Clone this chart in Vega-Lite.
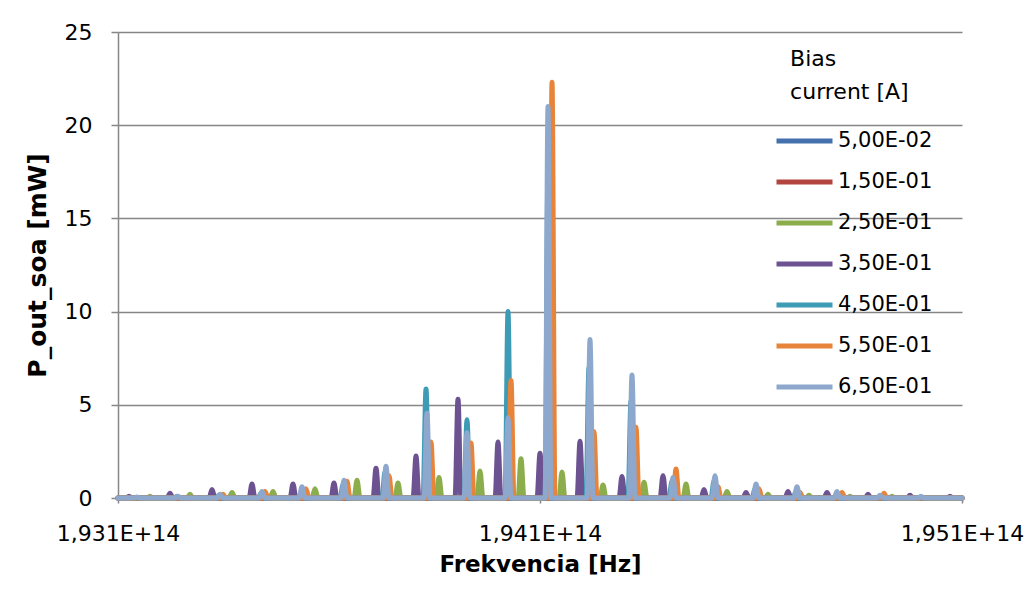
{
  "$schema": "https://vega.github.io/schema/vega-lite/v6.json",
  "width": 844,
  "height": 466,
  "autosize": {"type": "none"},
  "padding": {"left": 118, "top": 32, "right": 65, "bottom": 94},
  "background": "white",
  "config": {
    "view": {"stroke": null},
    "font": "DejaVu Sans",
    "axis": {"labelColor": "black", "titleColor": "black", "labelFont": "DejaVu Sans", "titleFont": "DejaVu Sans"},
    "legend": {"labelFont": "DejaVu Sans", "titleFont": "DejaVu Sans"}
  },
  "data": {
    "values": [
      {"s": "5,00E-02", "f": 1.931e14, "p": 0},
      {"s": "5,00E-02", "f": 1.951e14, "p": 0},
      {"s": "1,50E-01", "f": 1.931e14, "p": 0},
      {"s": "1,50E-01", "f": 1.951e14, "p": 0},

      {"s": "2,50E-01", "f": 1.931e14, "p": 0},
      {"s": "2,50E-01", "f": 1.931688e14, "p": 0}, {"s": "2,50E-01", "f": 1.931758e14, "p": 0.1}, {"s": "2,50E-01", "f": 1.931828e14, "p": 0},
      {"s": "2,50E-01", "f": 1.932636e14, "p": 0}, {"s": "2,50E-01", "f": 1.932706e14, "p": 0.2}, {"s": "2,50E-01", "f": 1.932776e14, "p": 0},
      {"s": "2,50E-01", "f": 1.933632e14, "p": 0}, {"s": "2,50E-01", "f": 1.933702e14, "p": 0.3}, {"s": "2,50E-01", "f": 1.933772e14, "p": 0},
      {"s": "2,50E-01", "f": 1.934603e14, "p": 0}, {"s": "2,50E-01", "f": 1.934673e14, "p": 0.35}, {"s": "2,50E-01", "f": 1.934743e14, "p": 0},
      {"s": "2,50E-01", "f": 1.935598e14, "p": 0}, {"s": "2,50E-01", "f": 1.935668e14, "p": 0.5}, {"s": "2,50E-01", "f": 1.935738e14, "p": 0},
      {"s": "2,50E-01", "f": 1.936594e14, "p": 0}, {"s": "2,50E-01", "f": 1.936664e14, "p": 0.95}, {"s": "2,50E-01", "f": 1.936734e14, "p": 0},
      {"s": "2,50E-01", "f": 1.937565e14, "p": 0}, {"s": "2,50E-01", "f": 1.937635e14, "p": 0.8}, {"s": "2,50E-01", "f": 1.937705e14, "p": 0},
      {"s": "2,50E-01", "f": 1.938537e14, "p": 0}, {"s": "2,50E-01", "f": 1.938607e14, "p": 1.1}, {"s": "2,50E-01", "f": 1.938677e14, "p": 0},
      {"s": "2,50E-01", "f": 1.939508e14, "p": 0}, {"s": "2,50E-01", "f": 1.939578e14, "p": 1.45}, {"s": "2,50E-01", "f": 1.939648e14, "p": 0},
      {"s": "2,50E-01", "f": 1.940480e14, "p": 0}, {"s": "2,50E-01", "f": 1.940550e14, "p": 2.1}, {"s": "2,50E-01", "f": 1.940620e14, "p": 0},
      {"s": "2,50E-01", "f": 1.941451e14, "p": 0}, {"s": "2,50E-01", "f": 1.941521e14, "p": 1.4}, {"s": "2,50E-01", "f": 1.941591e14, "p": 0},
      {"s": "2,50E-01", "f": 1.942423e14, "p": 0}, {"s": "2,50E-01", "f": 1.942493e14, "p": 0.7}, {"s": "2,50E-01", "f": 1.942563e14, "p": 0},
      {"s": "2,50E-01", "f": 1.943395e14, "p": 0}, {"s": "2,50E-01", "f": 1.943465e14, "p": 0.85}, {"s": "2,50E-01", "f": 1.943535e14, "p": 0},
      {"s": "2,50E-01", "f": 1.944390e14, "p": 0}, {"s": "2,50E-01", "f": 1.944460e14, "p": 0.75}, {"s": "2,50E-01", "f": 1.944530e14, "p": 0},
      {"s": "2,50E-01", "f": 1.945361e14, "p": 0}, {"s": "2,50E-01", "f": 1.945431e14, "p": 0.35}, {"s": "2,50E-01", "f": 1.945501e14, "p": 0},
      {"s": "2,50E-01", "f": 1.946333e14, "p": 0}, {"s": "2,50E-01", "f": 1.946403e14, "p": 0.2}, {"s": "2,50E-01", "f": 1.946473e14, "p": 0},
      {"s": "2,50E-01", "f": 1.947305e14, "p": 0}, {"s": "2,50E-01", "f": 1.947375e14, "p": 0.15}, {"s": "2,50E-01", "f": 1.947445e14, "p": 0},
      {"s": "2,50E-01", "f": 1.948276e14, "p": 0}, {"s": "2,50E-01", "f": 1.948346e14, "p": 0.1}, {"s": "2,50E-01", "f": 1.948416e14, "p": 0},
      {"s": "2,50E-01", "f": 1.949271e14, "p": 0}, {"s": "2,50E-01", "f": 1.949341e14, "p": 0.1}, {"s": "2,50E-01", "f": 1.949411e14, "p": 0},
      {"s": "2,50E-01", "f": 1.951e14, "p": 0},

      {"s": "3,50E-01", "f": 1.931e14, "p": 0},
      {"s": "3,50E-01", "f": 1.931191e14, "p": 0}, {"s": "3,50E-01", "f": 1.931261e14, "p": 0.1}, {"s": "3,50E-01", "f": 1.931331e14, "p": 0},
      {"s": "3,50E-01", "f": 1.932162e14, "p": 0}, {"s": "3,50E-01", "f": 1.932232e14, "p": 0.25}, {"s": "3,50E-01", "f": 1.932302e14, "p": 0},
      {"s": "3,50E-01", "f": 1.933158e14, "p": 0}, {"s": "3,50E-01", "f": 1.933228e14, "p": 0.45}, {"s": "3,50E-01", "f": 1.933298e14, "p": 0},
      {"s": "3,50E-01", "f": 1.934105e14, "p": 0}, {"s": "3,50E-01", "f": 1.934175e14, "p": 0.75}, {"s": "3,50E-01", "f": 1.934245e14, "p": 0},
      {"s": "3,50E-01", "f": 1.935077e14, "p": 0}, {"s": "3,50E-01", "f": 1.935147e14, "p": 0.75}, {"s": "3,50E-01", "f": 1.935217e14, "p": 0},
      {"s": "3,50E-01", "f": 1.936048e14, "p": 0}, {"s": "3,50E-01", "f": 1.936118e14, "p": 0.8}, {"s": "3,50E-01", "f": 1.936188e14, "p": 0},
      {"s": "3,50E-01", "f": 1.937044e14, "p": 0}, {"s": "3,50E-01", "f": 1.937114e14, "p": 1.6}, {"s": "3,50E-01", "f": 1.937184e14, "p": 0},
      {"s": "3,50E-01", "f": 1.937992e14, "p": 0}, {"s": "3,50E-01", "f": 1.938062e14, "p": 2.25}, {"s": "3,50E-01", "f": 1.938132e14, "p": 0},
      {"s": "3,50E-01", "f": 1.938987e14, "p": 0}, {"s": "3,50E-01", "f": 1.939057e14, "p": 5.3}, {"s": "3,50E-01", "f": 1.939127e14, "p": 0},
      {"s": "3,50E-01", "f": 1.939935e14, "p": 0}, {"s": "3,50E-01", "f": 1.940005e14, "p": 3.0}, {"s": "3,50E-01", "f": 1.940075e14, "p": 0},
      {"s": "3,50E-01", "f": 1.940930e14, "p": 0}, {"s": "3,50E-01", "f": 1.941000e14, "p": 2.4}, {"s": "3,50E-01", "f": 1.941070e14, "p": 0},
      {"s": "3,50E-01", "f": 1.941878e14, "p": 0}, {"s": "3,50E-01", "f": 1.941948e14, "p": 3.05}, {"s": "3,50E-01", "f": 1.942018e14, "p": 0},
      {"s": "3,50E-01", "f": 1.942873e14, "p": 0}, {"s": "3,50E-01", "f": 1.942943e14, "p": 1.15}, {"s": "3,50E-01", "f": 1.943013e14, "p": 0},
      {"s": "3,50E-01", "f": 1.943845e14, "p": 0}, {"s": "3,50E-01", "f": 1.943915e14, "p": 1.2}, {"s": "3,50E-01", "f": 1.943985e14, "p": 0},
      {"s": "3,50E-01", "f": 1.944816e14, "p": 0}, {"s": "3,50E-01", "f": 1.944886e14, "p": 0.45}, {"s": "3,50E-01", "f": 1.944956e14, "p": 0},
      {"s": "3,50E-01", "f": 1.945812e14, "p": 0}, {"s": "3,50E-01", "f": 1.945882e14, "p": 0.3}, {"s": "3,50E-01", "f": 1.945952e14, "p": 0},
      {"s": "3,50E-01", "f": 1.946807e14, "p": 0}, {"s": "3,50E-01", "f": 1.946877e14, "p": 0.35}, {"s": "3,50E-01", "f": 1.946947e14, "p": 0},
      {"s": "3,50E-01", "f": 1.947731e14, "p": 0}, {"s": "3,50E-01", "f": 1.947801e14, "p": 0.3}, {"s": "3,50E-01", "f": 1.947871e14, "p": 0},
      {"s": "3,50E-01", "f": 1.948703e14, "p": 0}, {"s": "3,50E-01", "f": 1.948773e14, "p": 0.2}, {"s": "3,50E-01", "f": 1.948843e14, "p": 0},
      {"s": "3,50E-01", "f": 1.949698e14, "p": 0}, {"s": "3,50E-01", "f": 1.949768e14, "p": 0.15}, {"s": "3,50E-01", "f": 1.949838e14, "p": 0},
      {"s": "3,50E-01", "f": 1.950646e14, "p": 0}, {"s": "3,50E-01", "f": 1.950716e14, "p": 0.1}, {"s": "3,50E-01", "f": 1.950786e14, "p": 0},
      {"s": "3,50E-01", "f": 1.951e14, "p": 0},

      {"s": "4,50E-01", "f": 1.931e14, "p": 0},
      {"s": "4,50E-01", "f": 1.932328e14, "p": 0}, {"s": "4,50E-01", "f": 1.932398e14, "p": 0.1}, {"s": "4,50E-01", "f": 1.932468e14, "p": 0},
      {"s": "4,50E-01", "f": 1.933323e14, "p": 0}, {"s": "4,50E-01", "f": 1.933393e14, "p": 0.15}, {"s": "4,50E-01", "f": 1.933463e14, "p": 0},
      {"s": "4,50E-01", "f": 1.934319e14, "p": 0}, {"s": "4,50E-01", "f": 1.934389e14, "p": 0.25}, {"s": "4,50E-01", "f": 1.934459e14, "p": 0},
      {"s": "4,50E-01", "f": 1.935290e14, "p": 0}, {"s": "4,50E-01", "f": 1.935360e14, "p": 0.4}, {"s": "4,50E-01", "f": 1.935430e14, "p": 0},
      {"s": "4,50E-01", "f": 1.936262e14, "p": 0}, {"s": "4,50E-01", "f": 1.936332e14, "p": 0.7}, {"s": "4,50E-01", "f": 1.936402e14, "p": 0},
      {"s": "4,50E-01", "f": 1.937257e14, "p": 0}, {"s": "4,50E-01", "f": 1.937327e14, "p": 1.4}, {"s": "4,50E-01", "f": 1.937397e14, "p": 0},
      {"s": "4,50E-01", "f": 1.938229e14, "p": 0}, {"s": "4,50E-01", "f": 1.938299e14, "p": 5.85}, {"s": "4,50E-01", "f": 1.938369e14, "p": 0},
      {"s": "4,50E-01", "f": 1.939200e14, "p": 0}, {"s": "4,50E-01", "f": 1.939270e14, "p": 4.2}, {"s": "4,50E-01", "f": 1.939340e14, "p": 0},
      {"s": "4,50E-01", "f": 1.940172e14, "p": 0}, {"s": "4,50E-01", "f": 1.940242e14, "p": 10.0}, {"s": "4,50E-01", "f": 1.940312e14, "p": 0},
      {"s": "4,50E-01", "f": 1.941120e14, "p": 0}, {"s": "4,50E-01", "f": 1.941190e14, "p": 17.5}, {"s": "4,50E-01", "f": 1.941260e14, "p": 0},
      {"s": "4,50E-01", "f": 1.942091e14, "p": 0}, {"s": "4,50E-01", "f": 1.942161e14, "p": 7.0}, {"s": "4,50E-01", "f": 1.942231e14, "p": 0},
      {"s": "4,50E-01", "f": 1.943087e14, "p": 0}, {"s": "4,50E-01", "f": 1.943157e14, "p": 5.2}, {"s": "4,50E-01", "f": 1.943227e14, "p": 0},
      {"s": "4,50E-01", "f": 1.944058e14, "p": 0}, {"s": "4,50E-01", "f": 1.944128e14, "p": 0.9}, {"s": "4,50E-01", "f": 1.944198e14, "p": 0},
      {"s": "4,50E-01", "f": 1.945053e14, "p": 0}, {"s": "4,50E-01", "f": 1.945123e14, "p": 0.9}, {"s": "4,50E-01", "f": 1.945193e14, "p": 0},
      {"s": "4,50E-01", "f": 1.946025e14, "p": 0}, {"s": "4,50E-01", "f": 1.946095e14, "p": 0.5}, {"s": "4,50E-01", "f": 1.946165e14, "p": 0},
      {"s": "4,50E-01", "f": 1.946997e14, "p": 0}, {"s": "4,50E-01", "f": 1.947067e14, "p": 0.35}, {"s": "4,50E-01", "f": 1.947137e14, "p": 0},
      {"s": "4,50E-01", "f": 1.951e14, "p": 0},

      {"s": "5,50E-01", "f": 1.931e14, "p": 0},
      {"s": "5,50E-01", "f": 1.933418e14, "p": 0}, {"s": "5,50E-01", "f": 1.933488e14, "p": 0.2}, {"s": "5,50E-01", "f": 1.933558e14, "p": 0},
      {"s": "5,50E-01", "f": 1.934414e14, "p": 0}, {"s": "5,50E-01", "f": 1.934484e14, "p": 0.35}, {"s": "5,50E-01", "f": 1.934554e14, "p": 0},
      {"s": "5,50E-01", "f": 1.935385e14, "p": 0}, {"s": "5,50E-01", "f": 1.935455e14, "p": 0.5}, {"s": "5,50E-01", "f": 1.935525e14, "p": 0},
      {"s": "5,50E-01", "f": 1.936357e14, "p": 0}, {"s": "5,50E-01", "f": 1.936427e14, "p": 0.9}, {"s": "5,50E-01", "f": 1.936497e14, "p": 0},
      {"s": "5,50E-01", "f": 1.937352e14, "p": 0}, {"s": "5,50E-01", "f": 1.937422e14, "p": 1.2}, {"s": "5,50E-01", "f": 1.937492e14, "p": 0},
      {"s": "5,50E-01", "f": 1.938347e14, "p": 0}, {"s": "5,50E-01", "f": 1.938417e14, "p": 3.0}, {"s": "5,50E-01", "f": 1.938487e14, "p": 0},
      {"s": "5,50E-01", "f": 1.939295e14, "p": 0}, {"s": "5,50E-01", "f": 1.939365e14, "p": 2.95}, {"s": "5,50E-01", "f": 1.939435e14, "p": 0},
      {"s": "5,50E-01", "f": 1.940243e14, "p": 0}, {"s": "5,50E-01", "f": 1.940313e14, "p": 6.3}, {"s": "5,50E-01", "f": 1.940383e14, "p": 0},
      {"s": "5,50E-01", "f": 1.941215e14, "p": 0}, {"s": "5,50E-01", "f": 1.941285e14, "p": 22.3}, {"s": "5,50E-01", "f": 1.941355e14, "p": 0},
      {"s": "5,50E-01", "f": 1.942210e14, "p": 0}, {"s": "5,50E-01", "f": 1.942280e14, "p": 3.55}, {"s": "5,50E-01", "f": 1.942350e14, "p": 0},
      {"s": "5,50E-01", "f": 1.943205e14, "p": 0}, {"s": "5,50E-01", "f": 1.943275e14, "p": 3.8}, {"s": "5,50E-01", "f": 1.943345e14, "p": 0},
      {"s": "5,50E-01", "f": 1.944153e14, "p": 0}, {"s": "5,50E-01", "f": 1.944223e14, "p": 1.55}, {"s": "5,50E-01", "f": 1.944293e14, "p": 0},
      {"s": "5,50E-01", "f": 1.945148e14, "p": 0}, {"s": "5,50E-01", "f": 1.945218e14, "p": 0.6}, {"s": "5,50E-01", "f": 1.945288e14, "p": 0},
      {"s": "5,50E-01", "f": 1.946120e14, "p": 0}, {"s": "5,50E-01", "f": 1.946190e14, "p": 0.5}, {"s": "5,50E-01", "f": 1.946260e14, "p": 0},
      {"s": "5,50E-01", "f": 1.947091e14, "p": 0}, {"s": "5,50E-01", "f": 1.947161e14, "p": 0.3}, {"s": "5,50E-01", "f": 1.947231e14, "p": 0},
      {"s": "5,50E-01", "f": 1.948087e14, "p": 0}, {"s": "5,50E-01", "f": 1.948157e14, "p": 0.3}, {"s": "5,50E-01", "f": 1.948227e14, "p": 0},
      {"s": "5,50E-01", "f": 1.949082e14, "p": 0}, {"s": "5,50E-01", "f": 1.949152e14, "p": 0.25}, {"s": "5,50E-01", "f": 1.949222e14, "p": 0},
      {"s": "5,50E-01", "f": 1.951e14, "p": 0},

      {"s": "6,50E-01", "f": 1.931e14, "p": 0},
      {"s": "6,50E-01", "f": 1.931380e14, "p": 0}, {"s": "6,50E-01", "f": 1.931450e14, "p": 0.05}, {"s": "6,50E-01", "f": 1.931520e14, "p": 0},
      {"s": "6,50E-01", "f": 1.932352e14, "p": 0}, {"s": "6,50E-01", "f": 1.932422e14, "p": 0.1}, {"s": "6,50E-01", "f": 1.932492e14, "p": 0},
      {"s": "6,50E-01", "f": 1.933347e14, "p": 0}, {"s": "6,50E-01", "f": 1.933417e14, "p": 0.2}, {"s": "6,50E-01", "f": 1.933487e14, "p": 0},
      {"s": "6,50E-01", "f": 1.934342e14, "p": 0}, {"s": "6,50E-01", "f": 1.934412e14, "p": 0.35}, {"s": "6,50E-01", "f": 1.934482e14, "p": 0},
      {"s": "6,50E-01", "f": 1.935290e14, "p": 0}, {"s": "6,50E-01", "f": 1.935360e14, "p": 0.6}, {"s": "6,50E-01", "f": 1.935430e14, "p": 0},
      {"s": "6,50E-01", "f": 1.936286e14, "p": 0}, {"s": "6,50E-01", "f": 1.936356e14, "p": 0.95}, {"s": "6,50E-01", "f": 1.936426e14, "p": 0},
      {"s": "6,50E-01", "f": 1.937281e14, "p": 0}, {"s": "6,50E-01", "f": 1.937351e14, "p": 1.7}, {"s": "6,50E-01", "f": 1.937421e14, "p": 0},
      {"s": "6,50E-01", "f": 1.938252e14, "p": 0}, {"s": "6,50E-01", "f": 1.938322e14, "p": 4.55}, {"s": "6,50E-01", "f": 1.938392e14, "p": 0},
      {"s": "6,50E-01", "f": 1.939200e14, "p": 0}, {"s": "6,50E-01", "f": 1.939270e14, "p": 3.5}, {"s": "6,50E-01", "f": 1.939340e14, "p": 0},
      {"s": "6,50E-01", "f": 1.940172e14, "p": 0}, {"s": "6,50E-01", "f": 1.940242e14, "p": 4.3}, {"s": "6,50E-01", "f": 1.940312e14, "p": 0},
      {"s": "6,50E-01", "f": 1.941120e14, "p": 0}, {"s": "6,50E-01", "f": 1.941190e14, "p": 21.0}, {"s": "6,50E-01", "f": 1.941260e14, "p": 0},
      {"s": "6,50E-01", "f": 1.942115e14, "p": 0}, {"s": "6,50E-01", "f": 1.942185e14, "p": 8.5}, {"s": "6,50E-01", "f": 1.942255e14, "p": 0},
      {"s": "6,50E-01", "f": 1.943110e14, "p": 0}, {"s": "6,50E-01", "f": 1.943180e14, "p": 6.6}, {"s": "6,50E-01", "f": 1.943250e14, "p": 0},
      {"s": "6,50E-01", "f": 1.944082e14, "p": 0}, {"s": "6,50E-01", "f": 1.944152e14, "p": 1.1}, {"s": "6,50E-01", "f": 1.944222e14, "p": 0},
      {"s": "6,50E-01", "f": 1.945077e14, "p": 0}, {"s": "6,50E-01", "f": 1.945147e14, "p": 1.2}, {"s": "6,50E-01", "f": 1.945217e14, "p": 0},
      {"s": "6,50E-01", "f": 1.946049e14, "p": 0}, {"s": "6,50E-01", "f": 1.946119e14, "p": 0.75}, {"s": "6,50E-01", "f": 1.946189e14, "p": 0},
      {"s": "6,50E-01", "f": 1.947020e14, "p": 0}, {"s": "6,50E-01", "f": 1.947090e14, "p": 0.6}, {"s": "6,50E-01", "f": 1.947160e14, "p": 0},
      {"s": "6,50E-01", "f": 1.947968e14, "p": 0}, {"s": "6,50E-01", "f": 1.948038e14, "p": 0.35}, {"s": "6,50E-01", "f": 1.948108e14, "p": 0},
      {"s": "6,50E-01", "f": 1.948987e14, "p": 0}, {"s": "6,50E-01", "f": 1.949057e14, "p": 0.15}, {"s": "6,50E-01", "f": 1.949127e14, "p": 0},
      {"s": "6,50E-01", "f": 1.949959e14, "p": 0}, {"s": "6,50E-01", "f": 1.950029e14, "p": 0.1}, {"s": "6,50E-01", "f": 1.950099e14, "p": 0},
      {"s": "6,50E-01", "f": 1.951e14, "p": 0}
    ]
  },
  "mark": {"type": "line", "interpolate": "monotone", "strokeWidth": 5, "strokeCap": "round", "strokeJoin": "round", "clip": false},
  "encoding": {
    "x": {
      "field": "f",
      "type": "quantitative",
      "scale": {"domain": [1.931e14, 1.951e14], "nice": false, "zero": false},
      "axis": {
        "values": [1.931e14, 1.941e14, 1.951e14],
        "labelExpr": "replace(format(datum.value / 1e14, '.3f'), '.', ',') + 'E+14'",
        "grid": false,
        "domainColor": "#868686",
        "domainWidth": 1.5,
        "tickColor": "#868686",
        "tickWidth": 1.5,
        "tickSize": 5,
        "labelFontSize": 22,
        "labelPadding": 20,
        "labelFlush": false,
        "labelOverlap": false,
        "title": "Frekvencia [Hz]",
        "titleFontSize": 23,
        "titleFontWeight": "bold",
        "titlePadding": 9
      }
    },
    "y": {
      "field": "p",
      "type": "quantitative",
      "scale": {"domain": [0, 25], "nice": false},
      "axis": {
        "values": [0, 5, 10, 15, 20, 25],
        "grid": true,
        "gridColor": "#868686",
        "gridWidth": 1.5,
        "domainColor": "#868686",
        "domainWidth": 1.5,
        "tickColor": "#868686",
        "tickWidth": 1.5,
        "tickSize": 7,
        "labelFontSize": 22,
        "labelPadding": 19,
        "title": "P_out_soa [mW]",
        "titleFontSize": 25,
        "titleFontWeight": "bold",
        "titlePadding": 14
      }
    },
    "color": {
      "field": "s",
      "type": "nominal",
      "scale": {
        "domain": ["5,00E-02", "1,50E-01", "2,50E-01", "3,50E-01", "4,50E-01", "5,50E-01", "6,50E-01"],
        "range": ["#4471AE", "#B4443F", "#8CAD4C", "#6D5292", "#3E9BB6", "#E8843A", "#8EA8CD"]
      },
      "legend": {
        "orient": "none",
        "legendX": 656,
        "legendY": 17,
        "title": ["\u2800Bias", "\u2800current [A]"],
        "titleFontSize": 22,
        "titleFontWeight": "normal",
        "titleColor": "black",
        "titleLineHeight": 33,
        "titlePadding": 25,
        "labelFontSize": 21,
        "labelColor": "black",
        "labelOffset": 3,
        "symbolType": "stroke",
        "symbolSize": 3136,
        "symbolStrokeWidth": 5,
        "clipHeight": 24,
        "rowPadding": 17
      }
    }
  }
}
